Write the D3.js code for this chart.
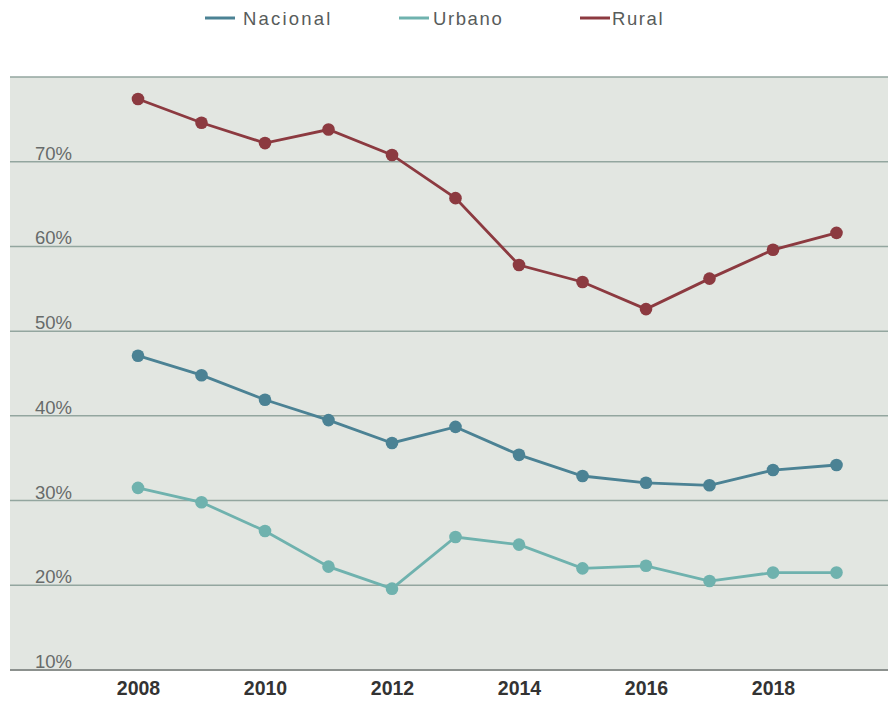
<!DOCTYPE html>
<html>
<head>
<meta charset="utf-8">
<script src="https://cdn.jsdelivr.net/npm/d3@7"></script>
<style>
  body { margin: 0; background: #fff; }
  text { font-family: "Liberation Sans", Arial, sans-serif; }
</style>
</head>
<body>
<div class="canvas"></div>
<script>
const years = [2008, 2009, 2010, 2011, 2012, 2013, 2014, 2015, 2016, 2017, 2018, 2019];
const nacional = [47.1, 44.8, 41.9, 39.5, 36.8, 38.7, 35.4, 32.9, 32.1, 31.8, 33.6, 34.2];
const urbano = [31.5, 29.8, 26.4, 22.2, 19.6, 25.7, 24.8, 22.0, 22.3, 20.5, 21.5, 21.5];
const rural = [77.4, 74.6, 72.2, 73.8, 70.8, 65.7, 57.8, 55.8, 52.6, 56.2, 59.6, 61.6];
const yTicks = [10, 20, 30, 40, 50, 60, 70];
const xTicks = [2008, 2010, 2012, 2014, 2016, 2018];

const series = [
  { name: "Nacional", values: nacional, color: "#4b8294" },
  { name: "Urbano", values: urbano, color: "#6fb2ae" },
  { name: "Rural", values: rural, color: "#8c3a40" },
];

const width = 888;
const height = 704;
const plot = { left: 10, right: 888, top: 77, bottom: 670 };

const svg = d3
  .select(".canvas")
  .append("svg")
  .attr("width", width)
  .attr("height", height);

// scales
const x = d3.scaleLinear().domain([2008, 2018]).range([138, 773]);
const y = d3.scaleLinear().domain([10, 80]).range([plot.bottom, plot.top]);

// background
svg
  .append("rect")
  .attr("x", plot.left)
  .attr("y", plot.top)
  .attr("width", plot.right - plot.left)
  .attr("height", plot.bottom - plot.top)
  .attr("fill", "#e2e6e1");

// gridlines
svg
  .append("g")
  .selectAll("line")
  .data([...yTicks, 80])
  .join("line")
  .attr("x1", plot.left)
  .attr("x2", plot.right)
  .attr("y1", (d) => y(d))
  .attr("y2", (d) => y(d))
  .attr("stroke", (d) => (d === 10 ? "#8c918e" : "#93a69f"))
  .attr("stroke-width", (d) => (d === 10 ? 2 : 1.5));

// y labels
svg
  .append("g")
  .selectAll("text")
  .data(yTicks)
  .join("text")
  .attr("x", 35)
  .attr("y", (d) => y(d) - 2)
  .attr("font-size", 18.5)
  .attr("fill", "#676b6a")
  .text((d) => d + "%");

// x axis
const xAxis = d3
  .axisBottom(x)
  .tickValues(xTicks)
  .tickSize(0)
  .tickPadding(11)
  .tickFormat(d3.format("d"));

const xAxisGroup = svg
  .append("g")
  .attr("transform", `translate(0, ${plot.bottom})`)
  .call(xAxis);
xAxisGroup.select(".domain").remove();
xAxisGroup
  .selectAll("text")
  .attr("font-size", 19.5)
  .attr("font-weight", "bold")
  .attr("fill", "#333")
  .style("font-family", "'Liberation Sans', Arial, sans-serif");

// lines
const line = d3
  .line()
  .x((d, i) => x(years[i]))
  .y((d) => y(d));

series.forEach((s) => {
  svg
    .append("path")
    .datum(s.values)
    .attr("fill", "none")
    .attr("stroke", s.color)
    .attr("stroke-width", 2.8)
    .attr("d", line);

  svg
    .append("g")
    .selectAll("circle")
    .data(s.values)
    .join("circle")
    .attr("cx", (d, i) => x(years[i]))
    .attr("cy", (d) => y(d))
    .attr("r", 6.3)
    .attr("fill", s.color);
});

// legend
const legendX = [205, 399, 580];
const legend = svg
  .append("g")
  .selectAll("g")
  .data(series)
  .join("g")
  .attr("transform", (d, i) => `translate(${legendX[i]}, 18)`);

legend
  .append("line")
  .attr("x1", 0)
  .attr("x2", 30)
  .attr("stroke", (d) => d.color)
  .attr("stroke-width", 3);

legend
  .append("text")
  .attr("x", (d, i) => (i === 0 ? 38 : i === 1 ? 34 : 32))
  .attr("y", 7)
  .attr("font-size", 18.5)
  .attr("letter-spacing", (d, i) => (i === 0 ? 2.2 : 1.6))
  .attr("fill", "#585c5b")
  .text((d) => d.name);
</script>
</body>
</html>
